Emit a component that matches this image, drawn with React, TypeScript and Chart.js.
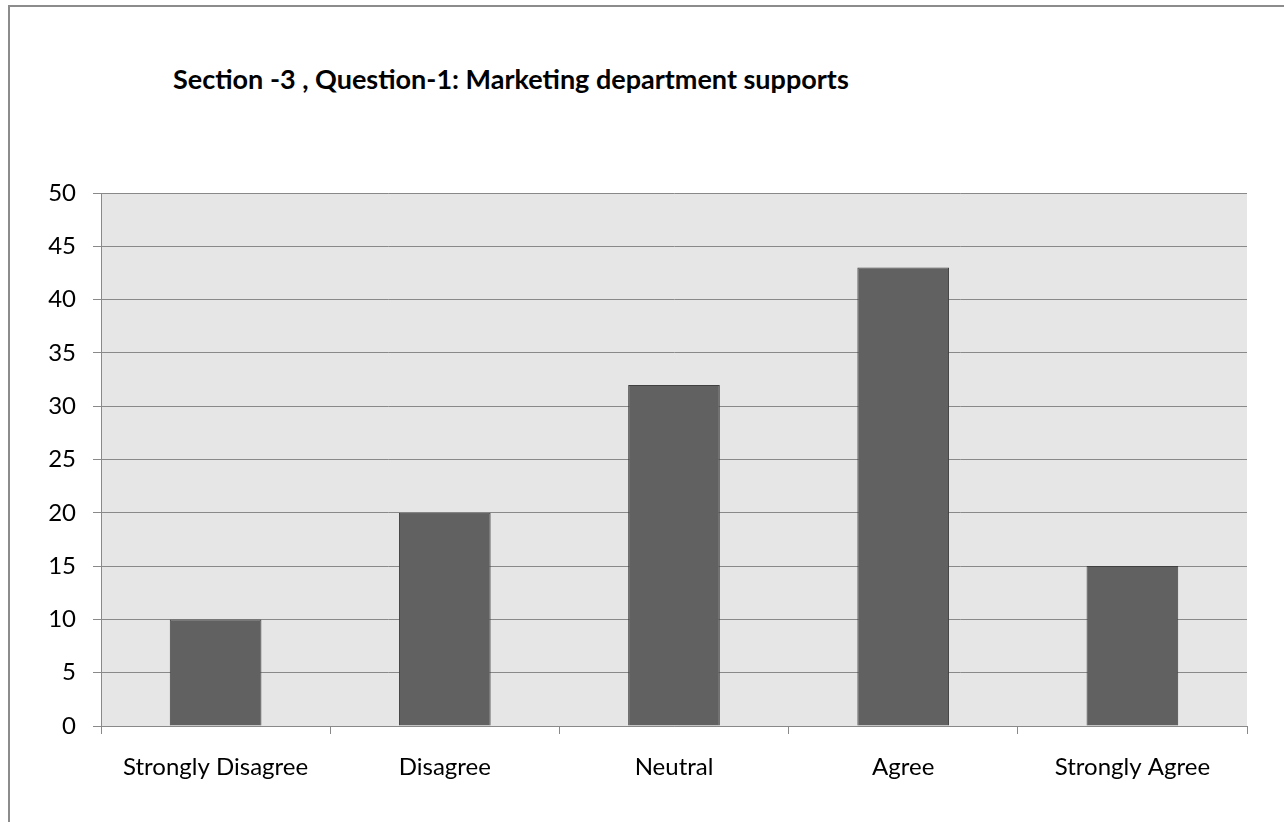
import React, { useEffect, useRef } from "react";
import { Chart, registerables } from "chart.js";

Chart.register(...registerables);

const TITLE = "Section -3 , Question-1: Marketing department supports";
const categories = ["Strongly Disagree", "Disagree", "Neutral", "Agree", "Strongly Agree"];
const responses = [10, 20, 32, 43, 15];
const yMin = 0;
const yMax = 50;
const yStep = 5;

const FONT = "Lato, 'Open Sans', sans-serif";
const GRID = "#898989";

const plotBg = {
  id: "plotBg",
  beforeDraw(chart: any) {
    const { ctx, chartArea } = chart;
    if (!chartArea) return;
    ctx.save();
    ctx.fillStyle = "#e6e6e6";
    ctx.fillRect(chartArea.left, chartArea.top, chartArea.right - chartArea.left, chartArea.bottom - chartArea.top);
    ctx.restore();
  },
};

export default function App() {
  const ref = useRef<HTMLCanvasElement | null>(null);

  useEffect(() => {
    if (!ref.current) return;
    const chart = new Chart(ref.current, {
      type: "bar",
      data: {
        labels: categories,
        datasets: [
          {
            data: responses,
            backgroundColor: "#616161",
            borderColor: "#404040",
            borderWidth: 1,
            barPercentage: 0.4,
            categoryPercentage: 1,
          },
        ],
      },
      options: {
        animation: false,
        responsive: false,
        maintainAspectRatio: false,
        layout: { padding: { left: 0, top: 193, right: 37, bottom: 0 } },
        plugins: {
          legend: { display: false },
          title: { display: false },
          tooltip: { enabled: false },
        },
        scales: {
          x: {
            offset: true,
            grid: {
              offset: true,
              drawOnChartArea: false,
              drawTicks: true,
              tickLength: 8,
              color: GRID,
              tickColor: GRID,
            },
            border: { display: true, color: GRID, width: 1 },
            ticks: {
              color: "#000",
              font: { family: FONT, size: 24 },
              padding: 19,
              maxRotation: 0,
              autoSkip: false,
            },
            afterFit(scale: any) {
              scale.height = 96;
            },
          },
          y: {
            min: yMin,
            max: yMax,
            grid: {
              drawOnChartArea: true,
              drawTicks: true,
              tickLength: 8,
              color: GRID,
              tickColor: GRID,
            },
            border: { display: true, color: GRID, width: 1 },
            ticks: {
              stepSize: yStep,
              color: "#000",
              font: { family: FONT, size: 24 },
              padding: 17,
            },
            afterFit(scale: any) {
              scale.width = 101;
            },
          },
        },
      },
      plugins: [plotBg],
    });
    return () => chart.destroy();
  }, []);

  return (
    <div
      style={{
        position: "fixed",
        left: 0,
        top: 0,
        width: 1284,
        height: 822,
        overflow: "hidden",
        background: "#fff",
      }}
    >
      <div
        style={{
          position: "absolute",
          left: 8,
          top: 5,
          width: 1400,
          height: 1000,
          border: "2px solid #8c8c8c",
          boxSizing: "border-box",
        }}
      />
      <div
        style={{
          position: "absolute",
          left: 173,
          top: 64,
          fontFamily: FONT,
          fontWeight: 700,
          fontSize: 27,
          lineHeight: "30px",
          color: "#000",
          whiteSpace: "nowrap",
        }}
      >
        {TITLE}
      </div>
      <canvas ref={ref} width={1284} height={822} style={{ position: "absolute", left: 0, top: 0 }} />
    </div>
  );
}
